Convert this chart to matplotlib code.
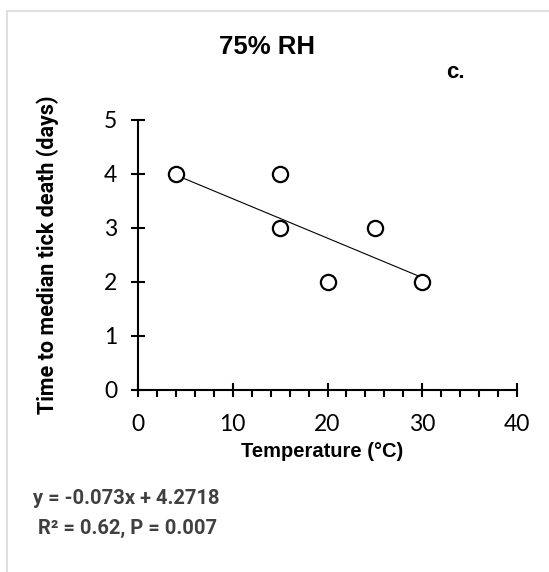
import numpy as np
import matplotlib.pyplot as plt
from matplotlib.ticker import MultipleLocator
from matplotlib.patches import Rectangle

# data
temperature = [4, 15, 15, 20, 25, 30]
days_to_death = [4, 4, 3, 2, 3, 2]
slope, intercept = -0.073, 4.2718
x_ticks = [0, 10, 20, 30, 40]
y_ticks = [0, 1, 2, 3, 4, 5]

W, H = 549, 572
fig = plt.figure(figsize=(W / 100, H / 100), dpi=100)

# light grey frame around the chart area
fig.patches.append(Rectangle((7 / W, -0.1), 1.2, 1 - 11 / H + 0.1, transform=fig.transFigure,
                             fill=False, edgecolor='#d9d9d9', linewidth=1.2))

ax = fig.add_axes([138 / W, 1 - 390 / H, 379 / W, 270 / H])

ax.scatter(temperature, days_to_death, s=120, facecolors='white', edgecolors='black',
           linewidths=1.6, zorder=3)
fit_x = np.array([min(temperature), max(temperature)])
ax.plot(fit_x, slope * fit_x + intercept, color='black', linewidth=0.8, zorder=2)

ax.set_xlim(0, 40)
ax.set_ylim(0, 5)
ax.set_xticks(x_ticks)
ax.set_yticks(y_ticks)
ax.xaxis.set_minor_locator(MultipleLocator(2))

for s in ['top', 'right']:
    ax.spines[s].set_visible(False)
for s in ['left', 'bottom']:
    ax.spines[s].set_linewidth(1.5)

ax.tick_params(axis='both', which='major', direction='inout', length=10, width=1.5,
               labelsize=16.5)
ax.tick_params(axis='x', which='major', pad=12)
ax.tick_params(axis='y', which='major', pad=10)
ax.tick_params(axis='x', which='minor', direction='out', length=5, width=1.5)
for lab in ax.get_xticklabels() + ax.get_yticklabels():
    lab.set_fontfamily('Lato')

ax.set_xlabel('Temperature (°C)', fontsize=14.5, fontweight='bold',
              fontfamily='Liberation Sans')
ax.xaxis.set_label_coords((322 - 138) / 379, (390 - 442) / 270)
ax.set_ylabel('Time to median tick death (days)', fontsize=15.5, fontweight='bold',
              fontfamily='Roboto', labelpad=32)

fig.text(267 / W, 1 - 47 / H, '75% RH', ha='center', va='center', fontsize=18.5,
         fontweight='bold', fontfamily='Liberation Sans')
fig.text(446 / W, 1 - 72 / H, 'c.', ha='left', va='center', fontsize=16,
         fontweight='bold', fontfamily='Liberation Sans')

fig.text(33 / W, 1 - 498 / H, f'y = {slope}x + {intercept}', ha='left', va='center',
         fontsize=14.5, fontweight='bold', fontfamily='Roboto', color='#404040')
fig.text(38 / W, 1 - 528 / H, 'R² = 0.62, P = 0.007', ha='left', va='center',
         fontsize=14.5, fontweight='bold', fontfamily='Roboto', color='#404040')

fig.savefig('out.png', dpi=100)
